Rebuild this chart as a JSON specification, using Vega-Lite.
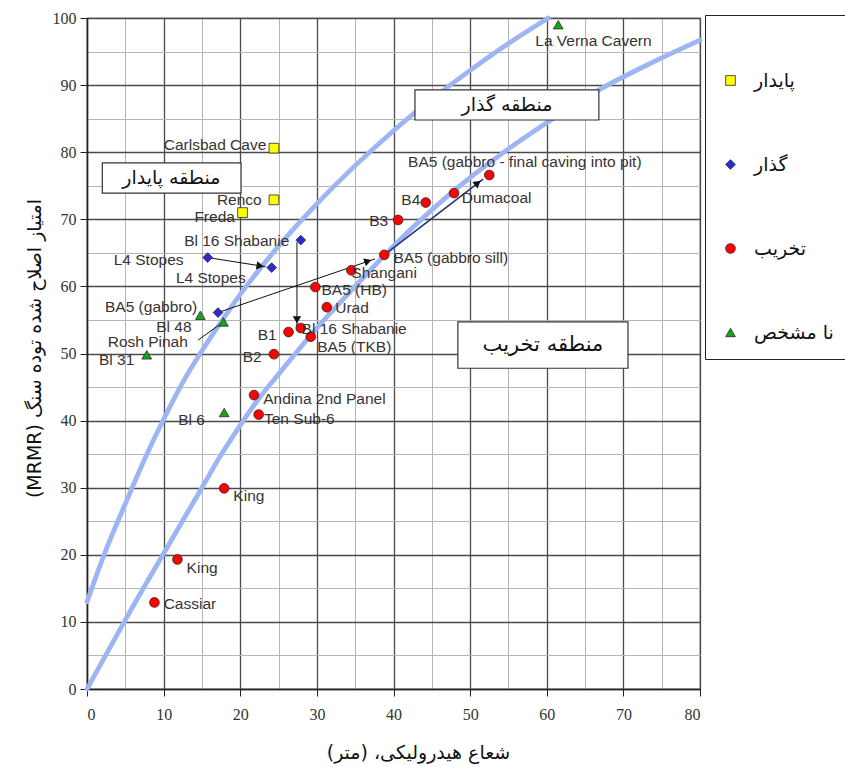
{
  "$schema": "https://vega.github.io/schema/vega-lite/v6.json",
  "width": 613,
  "height": 671,
  "autosize": {"type": "none"},
  "padding": {"left": 87, "top": 18, "right": 145, "bottom": 78},
  "background": "white",
  "config": {
    "view": {"stroke": "#444", "strokeWidth": 1.2},
    "axis": {
      "labelFont": "Liberation Serif",
      "labelFontSize": 16,
      "labelColor": "#333",
      "domainColor": "#222",
      "domainWidth": 1.5,
      "tickColor": "#222",
      "tickSize": 7,
      "titleFont": "DejaVu Sans",
      "titleFontSize": 19,
      "titleFontWeight": "normal",
      "titleColor": "#111",
      "gridColor": {"condition": {"test": "datum.value % 10 === 0", "value": "#4a4a4a"}, "value": "#b5b5b5"},
      "gridWidth": {"condition": {"test": "datum.value % 10 === 0", "value": 1.3}, "value": 1},
      "tickOpacity": {"condition": {"test": "datum.value % 10 === 0", "value": 1}, "value": 0},
      "labelExpr": "datum.value % 10 === 0 ? datum.label : ''"
    }
  },
  "datasets": {
    "curves": [
      {"curve": "upper", "x": 0, "y": 13},
      {"curve": "upper", "x": 2.5, "y": 20.8},
      {"curve": "upper", "x": 5, "y": 27.6},
      {"curve": "upper", "x": 7.5, "y": 34.2},
      {"curve": "upper", "x": 10, "y": 40.2},
      {"curve": "upper", "x": 12.5, "y": 45.7},
      {"curve": "upper", "x": 15, "y": 50.4},
      {"curve": "upper", "x": 17.5, "y": 54.7},
      {"curve": "upper", "x": 20, "y": 58.8},
      {"curve": "upper", "x": 25, "y": 66.0},
      {"curve": "upper", "x": 30, "y": 72.3},
      {"curve": "upper", "x": 35, "y": 78.0},
      {"curve": "upper", "x": 40, "y": 83.2},
      {"curve": "upper", "x": 45, "y": 87.9},
      {"curve": "upper", "x": 50, "y": 92.2},
      {"curve": "upper", "x": 55, "y": 96.2},
      {"curve": "upper", "x": 60.2, "y": 100},
      {"curve": "lower", "x": 0, "y": 0},
      {"curve": "lower", "x": 5, "y": 10.3},
      {"curve": "lower", "x": 10, "y": 20.2},
      {"curve": "lower", "x": 15, "y": 30},
      {"curve": "lower", "x": 17.5, "y": 34.9},
      {"curve": "lower", "x": 20, "y": 39.3},
      {"curve": "lower", "x": 22.5, "y": 43.4},
      {"curve": "lower", "x": 25, "y": 46.9},
      {"curve": "lower", "x": 30, "y": 53.8},
      {"curve": "lower", "x": 35, "y": 60.0},
      {"curve": "lower", "x": 40, "y": 66.0},
      {"curve": "lower", "x": 45, "y": 71.4},
      {"curve": "lower", "x": 50, "y": 76.2},
      {"curve": "lower", "x": 55, "y": 80.5},
      {"curve": "lower", "x": 60, "y": 84.4},
      {"curve": "lower", "x": 67, "y": 89.4},
      {"curve": "lower", "x": 74, "y": 93.5},
      {"curve": "lower", "x": 80, "y": 96.7}
    ],
    "arrows": [
      {"x": 15.75, "y": 64.3, "x2": 23.3, "y2": 62.94},
      {"x": 27.4, "y": 66.6, "x2": 27.4, "y2": 54.0},
      {"x": 17.1, "y": 56.1, "x2": 37.6, "y2": 64.1},
      {"x": 14.5, "y": 52.0, "x2": 17.8, "y2": 54.7}
    ],
    "arrowBlue": [
      {"x": 38.8, "y": 64.7, "x2": 51.7, "y2": 76.0}
    ],
    "heads": [
      {"id": "a1", "x": 22.6, "y": 63.05},
      {"id": "a2", "x": 27.4, "y": 55.0},
      {"id": "a3", "x": 36.67, "y": 63.75},
      {"id": "a4", "x": 51.0, "y": 75.4}
    ],
    "points": [
      {"name": "Carlsbad Cave", "cat": "پایدار", "x": 24.4, "y": 80.6},
      {"name": "Renco", "cat": "پایدار", "x": 24.4, "y": 72.9},
      {"name": "Freda", "cat": "پایدار", "x": 20.3, "y": 71.0},
      {"name": "Bl 16 Shabanie", "cat": "گذار", "x": 27.9, "y": 66.9},
      {"name": "L4 Stopes", "cat": "گذار", "x": 15.75, "y": 64.3},
      {"name": "L4 Stopes", "cat": "گذار", "x": 24.1, "y": 62.8},
      {"name": "BA5 (gabbro)", "cat": "گذار", "x": 17.1, "y": 56.1},
      {"name": "Cassiar", "cat": "تخریب", "x": 8.8, "y": 12.9},
      {"name": "King", "cat": "تخریب", "x": 11.8, "y": 19.3},
      {"name": "King", "cat": "تخریب", "x": 17.9, "y": 29.9},
      {"name": "Andina 2nd Panel", "cat": "تخریب", "x": 21.8, "y": 43.8},
      {"name": "Ten Sub-6", "cat": "تخریب", "x": 22.4, "y": 40.9},
      {"name": "B2", "cat": "تخریب", "x": 24.4, "y": 49.9},
      {"name": "B1", "cat": "تخریب", "x": 26.3, "y": 53.2},
      {"name": "Bl 16 Shabanie", "cat": "تخریب", "x": 27.9, "y": 53.8},
      {"name": "BA5 (TKB)", "cat": "تخریب", "x": 29.2, "y": 52.5},
      {"name": "Urad", "cat": "تخریب", "x": 31.3, "y": 56.9},
      {"name": "BA5 (HB)", "cat": "تخریب", "x": 29.8, "y": 59.9},
      {"name": "Shangani", "cat": "تخریب", "x": 34.5, "y": 62.4},
      {"name": "BA5 (gabbro sill)", "cat": "تخریب", "x": 38.8, "y": 64.7},
      {"name": "B3", "cat": "تخریب", "x": 40.6, "y": 69.9},
      {"name": "B4", "cat": "تخریب", "x": 44.2, "y": 72.5},
      {"name": "Dumacoal", "cat": "تخریب", "x": 47.9, "y": 73.9},
      {"name": "BA5 (gabbro - final caving into pit)", "cat": "تخریب", "x": 52.5, "y": 76.6},
      {"name": "La Verna Cavern", "cat": "نا مشخص", "x": 61.5, "y": 99.0},
      {"name": "Bl 48", "cat": "نا مشخص", "x": 14.8, "y": 55.7},
      {"name": "Rosh Pinah", "cat": "نا مشخص", "x": 17.8, "y": 54.7},
      {"name": "Bl 31", "cat": "نا مشخص", "x": 7.8, "y": 49.8},
      {"name": "Bl 6", "cat": "نا مشخص", "x": 17.9, "y": 41.2}
    ],
    "labelsEnd": [
      {"text": "Carlsbad Cave", "x": 23.4, "y": 81.1},
      {"text": "Renco", "x": 22.8, "y": 72.9},
      {"text": "Freda", "x": 19.3, "y": 70.4},
      {"text": "Bl 16 Shabanie", "x": 26.4, "y": 66.7},
      {"text": "L4 Stopes", "x": 12.6, "y": 64.0},
      {"text": "Bl 48", "x": 13.65, "y": 54.0},
      {"text": "B1", "x": 24.75, "y": 52.8},
      {"text": "B2", "x": 22.8, "y": 49.5},
      {"text": "B3", "x": 39.3, "y": 69.8},
      {"text": "B4", "x": 43.5, "y": 72.9}
    ],
    "labelsStart": [
      {"text": "La Verna Cavern", "x": 58.5, "y": 96.6},
      {"text": "BA5 (gabbro - final caving into pit)", "x": 41.9, "y": 78.6},
      {"text": "Dumacoal", "x": 48.9, "y": 73.1},
      {"text": "BA5 (gabbro sill)", "x": 40.0, "y": 64.3},
      {"text": "Shangani", "x": 34.5, "y": 61.95},
      {"text": "BA5 (HB)", "x": 30.6, "y": 59.5},
      {"text": "Urad", "x": 32.4, "y": 56.8},
      {"text": "Bl 16 Shabanie", "x": 28.0, "y": 53.7},
      {"text": "BA5 (TKB)", "x": 30.05, "y": 51.0},
      {"text": "Andina 2nd Panel", "x": 23.0, "y": 43.2},
      {"text": "Ten Sub-6", "x": 23.1, "y": 40.2},
      {"text": "King", "x": 19.1, "y": 28.8},
      {"text": "King", "x": 13.0, "y": 18.0},
      {"text": "Cassiar", "x": 10.0, "y": 12.6},
      {"text": "L4 Stopes", "x": 11.6, "y": 61.3},
      {"text": "BA5 (gabbro)", "x": 2.35, "y": 57.0},
      {"text": "Rosh Pinah", "x": 2.7, "y": 51.7},
      {"text": "Bl 31", "x": 1.57, "y": 49.0},
      {"text": "Bl 6", "x": 11.9, "y": 40.1}
    ],
    "regions": [
      {"x": 2.0, "x2": 20.1, "y": 73.9, "y2": 78.4},
      {"x": 42.8, "x2": 66.8, "y": 84.8, "y2": 89.3},
      {"x": 48.4, "x2": 70.6, "y": 47.8, "y2": 54.7}
    ],
    "regionLabels": [
      {"text": "منطقه پایدار", "x": 11.0, "y": 76.2},
      {"text": "منطقه گذار", "x": 54.8, "y": 87.0}
    ],
    "regionLabelBig": [
      {"text": "منطقه تخریب", "x": 59.5, "y": 51.3}
    ]
  },
  "encoding": {
    "x": {
      "field": "x",
      "type": "quantitative",
      "scale": {"domain": [0, 80], "nice": false, "zero": false},
      "axis": {
        "values": [0, 5, 10, 15, 20, 25, 30, 35, 40, 45, 50, 55, 60, 65, 70, 75, 80],
        "title": "شعاع هیدرولیکی، (متر)\u200f",
        "labelPadding": 10,
        "titleX": 331,
        "titleY": 63,
        "titleBaseline": "middle",
        "titleAlign": "center"
      }
    },
    "y": {
      "field": "y",
      "type": "quantitative",
      "scale": {"domain": [0, 100], "nice": false, "zero": false},
      "axis": {
        "values": [0, 5, 10, 15, 20, 25, 30, 35, 40, 45, 50, 55, 60, 65, 70, 75, 80, 85, 90, 95, 100],
        "title": "(MRMR) امتیاز اصلاح شده توده سنگ",
        "labelPadding": 4,
        "titleX": -53,
        "titleY": 330,
        "titleAngle": 270,
        "titleBaseline": "middle",
        "titleAlign": "center"
      }
    }
  },
  "layer": [
    {
      "data": {"name": "curves"},
      "mark": {"type": "line", "color": "#9db5f2", "strokeWidth": 4.8, "interpolate": "monotone", "strokeCap": "round"},
      "encoding": {"detail": {"field": "curve"}}
    },
    {
      "data": {"name": "arrows"},
      "mark": {"type": "rule", "color": "#111", "strokeWidth": 1},
      "encoding": {"x2": {"field": "x2"}, "y2": {"field": "y2"}}
    },
    {
      "data": {"name": "arrowBlue"},
      "mark": {"type": "rule", "color": "#27327a", "strokeWidth": 1.6},
      "encoding": {"x2": {"field": "x2"}, "y2": {"field": "y2"}}
    },
    {
      "data": {"name": "heads"},
      "transform": [{"filter": "datum.id === 'a1'"}],
      "mark": {"type": "point", "shape": "triangle-right", "angle": 9, "filled": true, "color": "#111", "size": 70, "opacity": 1}
    },
    {
      "data": {"name": "heads"},
      "transform": [{"filter": "datum.id === 'a2'"}],
      "mark": {"type": "point", "shape": "triangle-right", "angle": 90, "filled": true, "color": "#111", "size": 70, "opacity": 1}
    },
    {
      "data": {"name": "heads"},
      "transform": [{"filter": "datum.id === 'a3'"}],
      "mark": {"type": "point", "shape": "triangle-right", "angle": -18.9, "filled": true, "color": "#111", "size": 70, "opacity": 1}
    },
    {
      "data": {"name": "heads"},
      "transform": [{"filter": "datum.id === 'a4'"}],
      "mark": {"type": "point", "shape": "triangle-right", "angle": -37.5, "filled": true, "color": "#111", "size": 70, "opacity": 1}
    },
    {
      "data": {"name": "points"},
      "mark": {"type": "point", "filled": true, "opacity": 1, "size": 95, "stroke": "#2a2a2a", "strokeWidth": 0.8},
      "encoding": {
        "color": {
          "field": "cat",
          "type": "nominal",
          "scale": {"domain": ["پایدار", "گذار", "تخریب", "نا مشخص"], "range": ["#ffff00", "#2b2bd6", "#ff0000", "#1aa31a"]},
          "legend": {
            "orient": "none",
            "legendX": 618,
            "legendY": -3,
            "title": " ",
            "titleFontSize": 20,
            "titlePadding": 20,
            "padding": 16,
            "strokeColor": "#222",
            "fillColor": "white",
            "labelFont": "DejaVu Sans",
            "labelFontSize": 19,
            "labelColor": "#111",
            "symbolSize": 95,
            "rowPadding": 64,
            "labelOffset": 14,
            "symbolStrokeColor": "#2a2a2a",
            "symbolStrokeWidth": 0.8
          }
        },
        "shape": {
          "field": "cat",
          "type": "nominal",
          "scale": {"domain": ["پایدار", "گذار", "تخریب", "نا مشخص"], "range": ["square", "diamond", "circle", "triangle-up"]}
        }
      }
    },
    {
      "data": {"name": "labelsEnd"},
      "mark": {"type": "text", "align": "right", "baseline": "middle", "font": "Liberation Sans", "fontSize": 15.5, "color": "#383333"},
      "encoding": {"text": {"field": "text"}}
    },
    {
      "data": {"name": "labelsStart"},
      "mark": {"type": "text", "align": "left", "baseline": "middle", "font": "Liberation Sans", "fontSize": 15.5, "color": "#383333"},
      "encoding": {"text": {"field": "text"}}
    },
    {
      "data": {"name": "regions"},
      "mark": {"type": "rect", "fill": "white", "stroke": "#333", "strokeWidth": 1.2},
      "encoding": {"x2": {"field": "x2"}, "y2": {"field": "y2"}}
    },
    {
      "data": {"name": "regionLabels"},
      "mark": {"type": "text", "align": "center", "baseline": "middle", "font": "DejaVu Sans", "fontSize": 19, "color": "#111"},
      "encoding": {"text": {"field": "text"}}
    },
    {
      "data": {"name": "regionLabelBig"},
      "mark": {"type": "text", "align": "center", "baseline": "middle", "font": "DejaVu Sans", "fontSize": 21, "color": "#111"},
      "encoding": {"text": {"field": "text"}}
    }
  ]
}
